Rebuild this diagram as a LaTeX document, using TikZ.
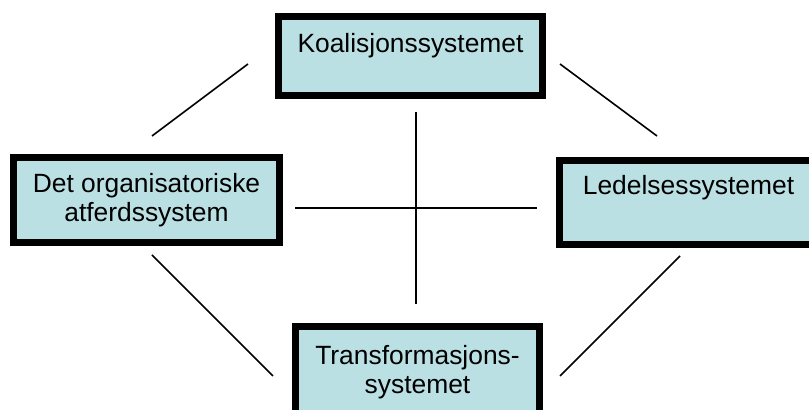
\documentclass[tikz,border=0pt]{standalone}
\usepackage{fontspec}
\setmainfont{Liberation Sans}
\definecolor{boxfill}{RGB}{187,224,227}

\begin{document}
\begin{tikzpicture}[x=0.5pt,y=-0.5pt,font=\fontsize{13.2}{14.75}\selectfont,
  sysbox/.style={draw, line width=3.5pt, fill=boxfill, align=center, inner sep=0pt},
  link/.style={line width=0.8pt}]
\useasboundingbox (0,0) rectangle (809,410);
\clip (0,0) rectangle (809,410);

\node[sysbox, minimum width=132pt, minimum height=39.5pt, text height=9.5pt, text depth=12.5pt] (koal) at (410.5,56) {Koalisjonssystemet};
\node[sysbox, minimum width=133pt, minimum height=42.5pt] (org) at (146.5,200) {Det organisatoriske\\atferdssystem};
\node[sysbox, minimum width=129pt, minimum height=42pt, text height=9.5pt, text depth=17pt] (led) at (688.5,202.5) {Ledelsessystemet};
\node[sysbox, minimum width=122pt, minimum height=45.5pt] (trans) at (417.5,372) {Transformasjons-\\systemet};

\coordinate (ko1) at (248,64);  \coordinate (ko2) at (152,136);
\coordinate (kl1) at (560,64);  \coordinate (kl2) at (657,136);
\coordinate (ot1) at (152,255); \coordinate (ot2) at (273,376);
\coordinate (lt1) at (680,256); \coordinate (lt2) at (560,376);
\coordinate (ol1) at (295,208); \coordinate (ol2) at (537,208);
\coordinate (kt1) at (416,112); \coordinate (kt2) at (416,304);

\draw[link] (ko1) -- (ko2);
\draw[link] (kl1) -- (kl2);
\draw[link] (ot1) -- (ot2);
\draw[link] (lt1) -- (lt2);
\draw[link] (ol1) -- (ol2);
\draw[link] (kt1) -- (kt2);
\end{tikzpicture}
\end{document}
